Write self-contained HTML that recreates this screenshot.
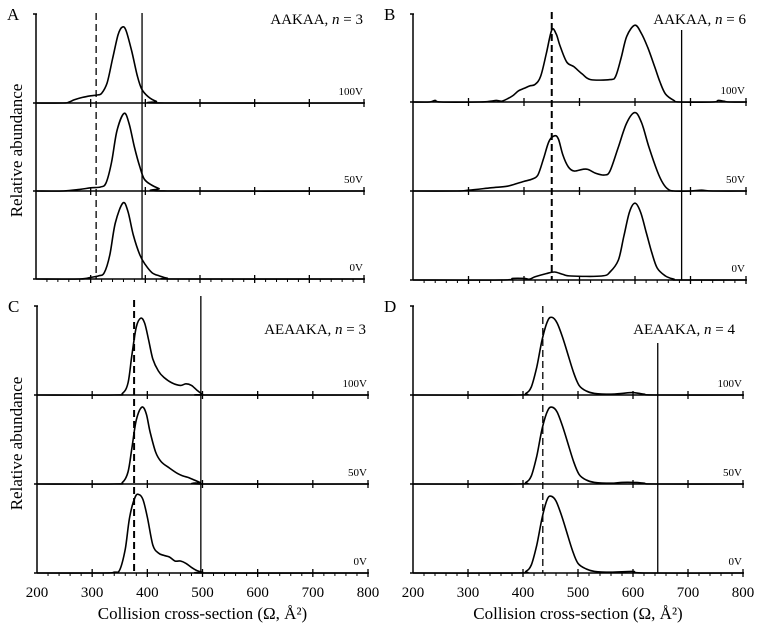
<!DOCTYPE html>
<html><head><meta charset="utf-8"><style>
html,body{margin:0;padding:0;background:#fff;}
svg{display:block;font-family:"Liberation Serif",serif;}
</style></head><body>
<svg id="fig" width="764" height="633" viewBox="0 0 764 633"></svg>
<script>
// x categories / ticks
const xTicks = [200,300,400,500,600,700,800];
const voltages = ["100V","50V","0V"];
// Panel A: AAKAA n=3
const A100 = [[200,0],[250,0],[260,1],[270,4],[285,7],[300,9],[312,10],[320,12],[330,25],[340,55],[350,85],[358,95],[365,90],[375,65],[385,35],[393,18],[405,8],[420,2],[435,0],[800,0]];
const A50  = [[200,0],[250,0],[280,2],[300,4],[318,5],[328,10],[338,35],[348,75],[361,97],[370,85],[380,55],[390,30],[398,15],[410,8],[425,3],[440,0],[800,0]];
const A0   = [[200,0],[280,0],[300,2],[315,4],[325,8],[335,30],[345,70],[359,95],[368,85],[378,55],[390,30],[400,18],[412,8],[425,4],[440,1],[460,0],[800,0]];
// Panel B: AAKAA n=6
const B100 = [[200,0],[230,0],[240,2],[250,0],[320,0],[340,1],[350,2],[360,1],[370,4],[380,8],[390,14],[400,17],[410,20],[420,22],[430,32],[440,60],[450,90],[458,85],[465,70],[477,50],[490,44],[505,35],[520,28],[555,28],[565,32],[575,55],[585,82],[600,96],[612,85],[623,68],[635,45],[645,25],[655,10],[670,2],[680,0],[740,0],[750,2],[760,1],[770,0],[800,0]];
const B50  = [[200,0],[280,0],[300,1],[340,4],[370,6],[390,10],[400,12],[415,15],[425,20],[435,40],[445,62],[455,69],[462,65],[470,45],[480,30],[490,25],[505,27],[515,27],[530,22],[545,20],[555,25],[570,55],[585,85],[600,98],[612,85],[625,55],[640,25],[650,10],[660,2],[670,0],[700,0],[720,1],[740,0],[800,0]];
const B0   = [[200,0],[360,0],[380,2],[400,2],[410,1],[420,4],[440,8],[455,10],[470,7],[485,5],[540,5],[555,10],[570,25],[580,55],[590,85],[600,96],[610,85],[620,60],[630,35],[640,15],[655,5],[670,1],[680,0],[800,0]];
// Panel C: AEAAKA n=3
const C100 = [[200,0],[340,0],[355,2],[365,15],[372,50],[380,85],[388,96],[395,90],[402,70],[410,45],[420,30],[430,22],[445,15],[460,12],[470,14],[480,12],[490,6],[500,1],[510,0],[800,0]];
const C50  = [[200,0],[340,0],[355,2],[365,15],[372,45],[380,80],[390,96],[398,88],[405,65],[415,40],[425,28],[440,20],[455,13],[465,10],[475,8],[485,5],[495,2],[505,0],[800,0]];
const C0   = [[200,0],[320,0],[340,1],[350,4],[360,30],[368,70],[378,95],[385,98],[392,92],[400,70],[410,35],[420,25],[430,22],[440,20],[450,15],[460,15],[470,12],[480,7],[490,3],[500,1],[510,0],[800,0]];
// Panel D: AEAAKA n=4
const D100 = [[200,0],[390,0],[405,2],[415,10],[425,35],[435,70],[445,93],[453,97],[462,90],[472,72],[482,50],[492,28],[502,12],[515,5],[530,2],[560,1],[580,2],[600,3],[620,1],[640,0],[800,0]];
const D50  = [[200,0],[390,0],[405,2],[415,10],[425,35],[435,70],[445,92],[453,96],[462,90],[472,72],[482,50],[492,28],[502,12],[515,5],[530,2],[560,1],[580,2],[600,2],[620,1],[640,0],[800,0]];
const D0   = [[200,0],[390,0],[405,2],[415,10],[425,35],[435,70],[444,92],[451,96],[460,90],[470,72],[480,50],[490,28],[500,12],[515,5],[530,2],[560,1],[600,2],[620,0],[800,0]];
// reference lines (dashed, solid)
const refA = [310,394], refB = [450,684], refC = [376,497], refD = [436,645];
const titles = ["AAKAA, ","AAKAA, ","AEAAKA, ","AEAAKA, "];
const nVals = [3,6,3,4];

const NS="http://www.w3.org/2000/svg";
const svg=document.getElementById('fig');
function el(t,a,p){const e=document.createElementNS(NS,t);for(const k in a)e.setAttribute(k,a[k]);(p||svg).appendChild(e);return e;}
function smooth(P){
 let d='M'+P[0][0].toFixed(1)+','+P[0][1].toFixed(1);
 for(let i=0;i<P.length-1;i++){
  const p0=P[Math.max(0,i-1)],p1=P[i],p2=P[i+1],p3=P[Math.min(P.length-1,i+2)];
  const c1x=p1[0]+(p2[0]-p0[0])/6,c1y=p1[1]+(p2[1]-p0[1])/6;
  const c2x=p2[0]-(p3[0]-p1[0])/6,c2y=p2[1]-(p3[1]-p1[1])/6;
  d+=' C'+c1x.toFixed(1)+','+c1y.toFixed(1)+' '+c2x.toFixed(1)+','+c2y.toFixed(1)+' '+p2[0].toFixed(1)+','+p2[1].toFixed(1);
 }
 return d;
}

const panels=[
 {id:'a',letter:'A',x0:36,x1:364,top:14,base:[103,191,279],data:[A100,A50,A0],ref:refA,refTop:[13,13],titleX:363,titleY:24},
 {id:'b',letter:'B',x0:413,x1:746,top:14,base:[102,191,280],data:[B100,B50,B0],ref:refB,refTop:[12,30],titleX:746,titleY:24},
 {id:'c',letter:'C',x0:37,x1:368,top:306,base:[395,484,573],data:[C100,C50,C0],ref:refC,refTop:[300,296],titleX:366,titleY:334},
 {id:'d',letter:'D',x0:413,x1:743,top:306,base:[395,484,573],data:[D100,D50,D0],ref:refD,refTop:[306,343],titleX:735,titleY:334}
];
panels.forEach((p,pi)=>{
 const g=el('g',{});
 
 
 const xs=v=>p.x0+(v-200)/600*(p.x1-p.x0);
 const hs=80/100;
 const ya=el('line',{x1:p.x0,y1:p.top,x2:p.x0,y2:p.base[2],stroke:'#000','stroke-width':1.5},g);
 
 
 el('line',{x1:p.x0-3,y1:p.top,x2:p.x0+1,y2:p.top,stroke:'#000','stroke-width':1.5},g);
 const lt=el('text',{x:p.x0-29,y:p.top+6,'font-size':17},g);lt.textContent=p.letter;
 
 
 p.base.forEach((b,bi)=>{
  const bl=el('line',{x1:p.x0-3,y1:b,x2:p.x1+1,y2:b,stroke:'#000','stroke-width':1.5},g);
  
  
  xTicks.forEach(t=>{if(t>200)el('line',{x1:xs(t),y1:b-4,x2:xs(t),y2:b+4,stroke:'#000','stroke-width':1.3},g);});
  const vl=el('text',{x:p.x1-1,y:b-8,'font-size':11,'text-anchor':'end'},g);vl.textContent=voltages[bi];
  
  
 });
 const bb=p.base[2];
 for(let v=220;v<800;v+=20){ if(v%100) el('line',{x1:xs(v),y1:bb,x2:xs(v),y2:bb+3,stroke:'#000','stroke-width':1},g);}
 if(p.id==='c'||p.id==='d'){
  xTicks.forEach(t=>{const tx=el('text',{x:xs(t),y:bb+24,'font-size':15,'text-anchor':'middle'},g);tx.textContent=t;
   
   });
  const xl=el('text',{x:(p.x0+p.x1)/2,y:bb+46,'font-size':17,'text-anchor':'middle'},g);
  xl.textContent='Collision cross-section (Ω, Å²)';
  
  
 }
 if(p.id==='a'||p.id==='c'){
  const cy=(p.top+bb)/2+4;
  const yl=el('text',{x:22,y:cy,'font-size':17,'text-anchor':'middle',transform:'rotate(-90 22 '+cy+')'},g);
  yl.textContent='Relative abundance';
  
  
 }
 const tt=el('text',{x:p.titleX,y:p.titleY,'font-size':15,'text-anchor':'end'},g);
 tt.textContent=titles[pi];
 const ti=el('tspan',{'font-style':'italic'},tt);ti.textContent='n';
 const tr=el('tspan',{},tt);tr.textContent=' = '+nVals[pi];
 
 
 p.data.forEach((d,di)=>{
  const b=p.base[di];
  const P=d.map(q=>[xs(q[0]),b-q[1]*hs]);
  const pl=el('path',{d:smooth(P),fill:'none',stroke:'#000','stroke-width':1.6,'stroke-linejoin':'round'},g);
  
  
 });
 const dl=el('line',{x1:xs(p.ref[0]),y1:p.refTop[0],x2:xs(p.ref[0]),y2:bb,stroke:'#000','stroke-width':(p.id==='b'||p.id==='c')?2:1.3,'stroke-dasharray':'7,4'},g);
 
 
 const sl=el('line',{x1:xs(p.ref[1]),y1:p.refTop[1],x2:xs(p.ref[1]),y2:bb,stroke:'#000','stroke-width':1.3},g);
 
 
});
</script>
</body></html>
